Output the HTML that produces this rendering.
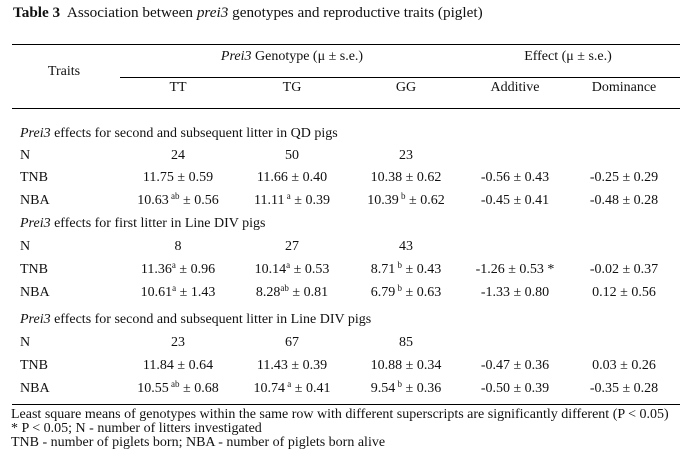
<!DOCTYPE html>
<html><head><meta charset="utf-8"><style>
body{margin:0;width:688px;height:459px;background:#fff;position:relative;font-family:"Liberation Serif",serif;font-size:14px;color:#111;overflow:hidden}
.t{position:absolute;white-space:nowrap;line-height:14px;transform:translateY(-7px)}
.c{transform:translate(-50%,-7px)}
.r{position:absolute;background:#000;height:1px}
sup{font-size:9px;line-height:0;vertical-align:5px}
i{font-style:italic}
</style></head><body>
<div class="t" style="left:13px;top:13px;font-size:15.2px"><b>Table 3</b>&nbsp; Association between <i>prei3</i> genotypes and reproductive traits (piglet)</div>
<div class="r" style="left:12px;width:668px;top:44px"></div>
<div class="r" style="left:120px;width:560px;top:77px"></div>
<div class="r" style="left:12px;width:668px;top:108px"></div>
<div class="r" style="left:12px;width:668px;top:404px"></div>
<div class="t c" style="left:64px;top:72px">Traits</div>
<div class="t c" style="left:292px;top:57px"><i>Prei3</i> Genotype (μ ± s.e.)</div>
<div class="t c" style="left:568px;top:57px">Effect (μ ± s.e.)</div>
<div class="t c" style="left:178px;top:88px">TT</div>
<div class="t c" style="left:292px;top:88px">TG</div>
<div class="t c" style="left:406px;top:88px">GG</div>
<div class="t c" style="left:515px;top:88px">Additive</div>
<div class="t c" style="left:624px;top:88px">Dominance</div>

<div class="t" style="left:20px;top:134px"><i>Prei3</i> effects for second and subsequent litter in QD pigs</div>
<div class="t" style="left:20px;top:156px">N</div>
<div class="t c" style="left:178px;top:156px">24</div>
<div class="t c" style="left:292px;top:156px">50</div>
<div class="t c" style="left:406px;top:156px">23</div>
<div class="t" style="left:20px;top:178px">TNB</div>
<div class="t c" style="left:178px;top:178px">11.75 ± 0.59</div>
<div class="t c" style="left:292px;top:178px">11.66 ± 0.40</div>
<div class="t c" style="left:406px;top:178px">10.38 ± 0.62</div>
<div class="t c" style="left:515px;top:178px">-0.56 ± 0.43</div>
<div class="t c" style="left:624px;top:178px">-0.25 ± 0.29</div>
<div class="t" style="left:20px;top:201px">NBA</div>
<div class="t c" style="left:178px;top:201px">10.63<sup> ab</sup> ± 0.56</div>
<div class="t c" style="left:292px;top:201px">11.11<sup> a</sup> ± 0.39</div>
<div class="t c" style="left:406px;top:201px">10.39<sup> b</sup> ± 0.62</div>
<div class="t c" style="left:515px;top:201px">-0.45 ± 0.41</div>
<div class="t c" style="left:624px;top:201px">-0.48 ± 0.28</div>

<div class="t" style="left:20px;top:224px"><i>Prei3</i> effects for first litter in Line DIV pigs</div>
<div class="t" style="left:20px;top:247px">N</div>
<div class="t c" style="left:178px;top:247px">8</div>
<div class="t c" style="left:292px;top:247px">27</div>
<div class="t c" style="left:406px;top:247px">43</div>
<div class="t" style="left:20px;top:270px">TNB</div>
<div class="t c" style="left:178px;top:270px">11.36<sup>a</sup> ± 0.96</div>
<div class="t c" style="left:292px;top:270px">10.14<sup>a</sup> ± 0.53</div>
<div class="t c" style="left:406px;top:270px">8.71<sup> b</sup> ± 0.43</div>
<div class="t c" style="left:515px;top:270px">-1.26 ± 0.53 *</div>
<div class="t c" style="left:624px;top:270px">-0.02 ± 0.37</div>
<div class="t" style="left:20px;top:293px">NBA</div>
<div class="t c" style="left:178px;top:293px">10.61<sup>a</sup> ± 1.43</div>
<div class="t c" style="left:292px;top:293px">8.28<sup>ab</sup> ± 0.81</div>
<div class="t c" style="left:406px;top:293px">6.79<sup> b</sup> ± 0.63</div>
<div class="t c" style="left:515px;top:293px">-1.33 ± 0.80</div>
<div class="t c" style="left:624px;top:293px">0.12 ± 0.56</div>

<div class="t" style="left:20px;top:320px"><i>Prei3</i> effects for second and subsequent litter in Line DIV pigs</div>
<div class="t" style="left:20px;top:343px">N</div>
<div class="t c" style="left:178px;top:343px">23</div>
<div class="t c" style="left:292px;top:343px">67</div>
<div class="t c" style="left:406px;top:343px">85</div>
<div class="t" style="left:20px;top:366px">TNB</div>
<div class="t c" style="left:178px;top:366px">11.84 ± 0.64</div>
<div class="t c" style="left:292px;top:366px">11.43 ± 0.39</div>
<div class="t c" style="left:406px;top:366px">10.88 ± 0.34</div>
<div class="t c" style="left:515px;top:366px">-0.47 ± 0.36</div>
<div class="t c" style="left:624px;top:366px">0.03 ± 0.26</div>
<div class="t" style="left:20px;top:389px">NBA</div>
<div class="t c" style="left:178px;top:389px">10.55<sup> ab</sup> ± 0.68</div>
<div class="t c" style="left:292px;top:389px">10.74<sup> a</sup> ± 0.41</div>
<div class="t c" style="left:406px;top:389px">9.54<sup> b</sup> ± 0.36</div>
<div class="t c" style="left:515px;top:389px">-0.50 ± 0.39</div>
<div class="t c" style="left:624px;top:389px">-0.35 ± 0.28</div>

<div class="t" style="left:11px;top:415px;font-size:14px">Least square means of genotypes within the same row with different superscripts are significantly different (P &lt; 0.05)</div>
<div class="t" style="left:11px;top:429px;font-size:14px">* P &lt; 0.05; N - number of litters investigated</div>
<div class="t" style="left:11px;top:443px;font-size:14px">TNB - number of piglets born; NBA - number of piglets born alive</div>
</body></html>
